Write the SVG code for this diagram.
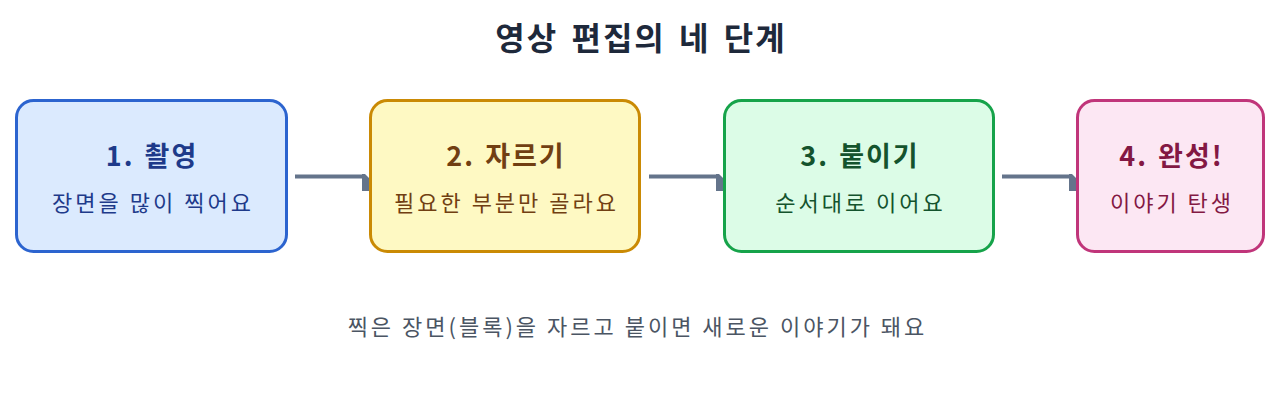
<svg xmlns="http://www.w3.org/2000/svg" xmlns:xlink="http://www.w3.org/1999/xlink" width="1280" height="404" viewBox="0 0 1280 404">
<style>
text{font-family:"Noto Sans CJK KR","Noto Sans",sans-serif;text-anchor:middle}
.title{font-size:32px;font-weight:700;fill:#1e293b;letter-spacing:2px;word-spacing:4px}
.h{font-size:27px;font-weight:700;letter-spacing:2px;word-spacing:2px}
.s{font-size:22px;letter-spacing:3px}
.cap{font-size:22px;fill:#4b5563;letter-spacing:3px}
.box{stroke-width:3}
.conn{stroke:#64748b;stroke-width:4;fill:none}
.head{fill:#64748b}
</style>
<defs>
<path id="ah" d="M0,0 L3,0 L8,5 L8,17 L0,17 Z"/>
</defs>
<rect width="1280" height="404" fill="#ffffff"/>
<text class="title" x="641" y="50">영상 편집의 네 단계</text>
<g id="connectors">
<line class="conn" x1="295" y1="176.5" x2="364" y2="176.5"/>
<use href="#ah" xlink:href="#ah" class="head" x="362" y="174"/>
<line class="conn" x1="649" y1="176.5" x2="718" y2="176.5"/>
<use href="#ah" xlink:href="#ah" class="head" x="716" y="174"/>
<line class="conn" x1="1002" y1="176.5" x2="1071" y2="176.5"/>
<use href="#ah" xlink:href="#ah" class="head" x="1069" y="174"/>
</g>
<g id="node1">
<rect class="box" x="16.5" y="100.5" width="270" height="151" rx="17" fill="#dbeafe" stroke="#2c64cf"/>
<text class="h" x="152" y="166" fill="#1e3a8a">1. 촬영</text>
<text class="s" x="153" y="211" fill="#1e3a8a">장면을 많이 찍어요</text>
</g>
<g id="node2">
<rect class="box" x="370.5" y="100.5" width="269" height="151" rx="17" fill="#fef9c3" stroke="#ca8a04"/>
<text class="h" x="506" y="166" fill="#713f12">2. 자르기</text>
<text class="s" x="506.5" y="211" fill="#713f12">필요한 부분만 골라요</text>
</g>
<g id="node3">
<rect class="box" x="724.5" y="100.5" width="269" height="151" rx="17" fill="#dcfce7" stroke="#16a34a"/>
<text class="h" x="860" y="166" fill="#14532d">3. 붙이기</text>
<text class="s" x="860.5" y="211" fill="#14532d">순서대로 이어요</text>
</g>
<g id="node4">
<rect class="box" x="1077.5" y="100.5" width="186" height="151" rx="17" fill="#fce7f3" stroke="#c0357a"/>
<text class="h" x="1171.5" y="166" fill="#831843">4. 완성!</text>
<text class="s" x="1172" y="211" fill="#831843">이야기 탄생</text>
</g>
<text class="cap" x="637.5" y="335">찍은 장면(블록)을 자르고 붙이면 새로운 이야기가 돼요</text>
</svg>
